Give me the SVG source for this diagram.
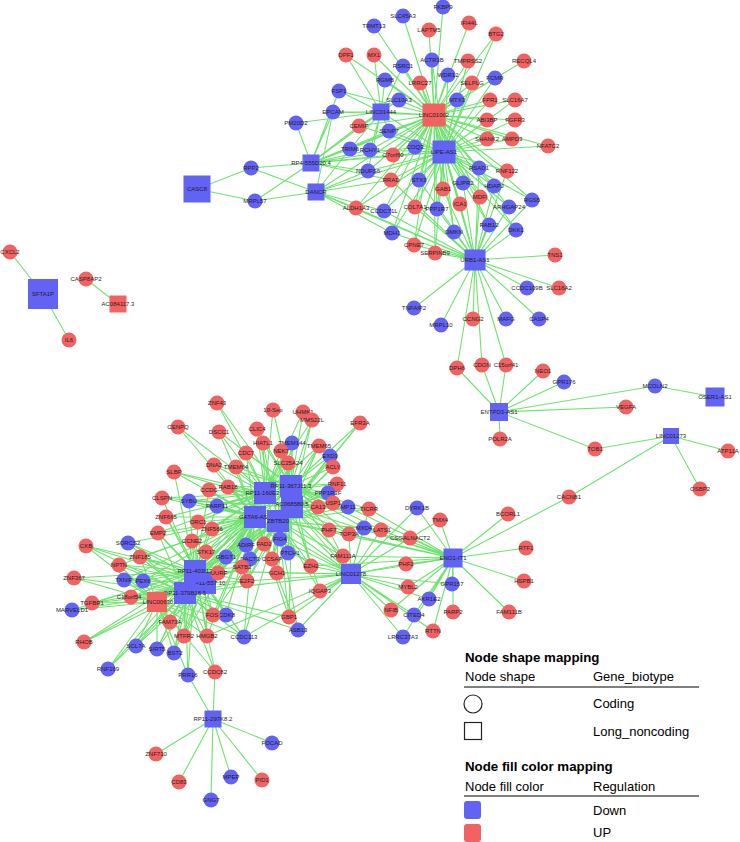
<svg xmlns="http://www.w3.org/2000/svg" width="740" height="842" viewBox="0 0 740 842">
<style>
.d{fill:#6262f4}
.u{fill:#f26262}
text{font-family:"Liberation Sans",Arial,sans-serif;font-size:6px;text-anchor:middle;fill:#1e1e1e}
#edges path{stroke:#6ee46e;stroke-width:1.1;fill:none}
#legend text{font-size:13px;text-anchor:start;fill:#000}
#legend .t{font-weight:bold;font-size:13.3px}
</style>
<rect width="740" height="842" fill="#fff"/>
<g id="edges">
<path d="M434 115L443 7M434 115L403 16M434 115L374 26M434 115L429 30M434 115L469 23M434 115L496 34M434 115L346 55M434 115L374 55M434 115L432 60M434 115L468 61M434 115L524 61M434 115L403 66M434 115L385 80M434 115L420 83M434 115L448 75M434 115L495 78M434 115L472 83M434 115L339 91M434 115L399 100M434 115L457 100M434 115L490 100M434 115L515 100M434 115L333 112M434 115L487 120M434 115L515 120M434 115L359 126M434 115L389 131M434 115L487 139M434 115L512 139M434 115L548 146M434 115L350 149M434 115L370 150M434 115L415 147M434 115L393 155M434 115L368 171M434 115L479 168M434 115L507 171M434 115L391 180M434 115L419 180M434 115L443 189M434 115L463 183M434 115L494 186M434 115L480 197M434 115L460 204M434 115L509 207M434 115L532 200M434 115L356 208M434 115L384 211M434 115L415 207M434 115L437 209M434 115L489 225M434 115L516 230M434 115L392 233M434 115L454 232M434 115L414 245M434 115L435 253M434 115L381 112M434 115L444 152M434 115L475 260M434 115L311 163M434 115L316 192"/>
<path d="M444 152L495 78M444 152L472 83M444 152L457 100M444 152L490 100M444 152L515 100M444 152L487 120M444 152L515 120M444 152L487 139M444 152L512 139M444 152L548 146M444 152L479 168M444 152L507 171M444 152L419 180M444 152L443 189M444 152L463 183M444 152L494 186M444 152L480 197M444 152L460 204M444 152L509 207M444 152L532 200M444 152L415 207M444 152L437 209M444 152L489 225M444 152L516 230M444 152L454 232M444 152L414 245M444 152L435 253M444 152L415 147M444 152L393 155M444 152L370 150M444 152L368 171M444 152L391 180M444 152L448 75M444 152L432 60M444 152L420 83M444 152L468 61M444 152L389 131M444 152L359 126M444 152L384 211M444 152L392 233M444 152L496 34M444 152L475 260M444 152L311 163M444 152L316 192M444 152L381 112M444 152L356 208"/>
<path d="M475 260L419 180M475 260L443 189M475 260L463 183M475 260L494 186M475 260L480 197M475 260L460 204M475 260L509 207M475 260L532 200M475 260L489 225M475 260L516 230M475 260L454 232M475 260L415 207M475 260L437 209M475 260L414 245M475 260L435 253M475 260L392 233M475 260L384 211M475 260L356 208M475 260L391 180M475 260L479 168M475 260L507 171M475 260L555 255M475 260L527 288M475 260L559 288M475 260L414 308M475 260L441 325M475 260L473 319M475 260L506 319M475 260L539 319M475 260L457 368M475 260L482 365M475 260L506 365M475 260L316 192"/>
<path d="M381 112L346 55M381 112L374 55M381 112L385 80M381 112L399 100M381 112L339 91M381 112L333 112M381 112L296 123M381 112L359 126M381 112L389 131M381 112L350 149M381 112L370 150M381 112L311 163M381 112L403 66M381 112L368 171"/>
<path d="M311 163L251 168M311 163L255 201M311 163L296 123M311 163L333 112M311 163L339 91M311 163L359 126M311 163L389 131M311 163L350 149M311 163L370 150M311 163L368 171M311 163L393 155M311 163L415 147M311 163L391 180"/>
<path d="M316 192L251 168M316 192L255 201M316 192L368 171M316 192L356 208M316 192L384 211M316 192L392 233M316 192L391 180M316 192L350 149M316 192L333 112M197 189L251 168M197 189L255 201"/>
<path d="M499 412L457 368M499 412L482 365M499 412L506 365M499 412L543 371M499 412L564 382M499 412L655 386M499 412L626 407M499 412L500 439M499 412L595 449M715 397L655 386M671 436L595 449M671 436L728 451M671 436L700 489M671 436L569 497M43 294L10 252M43 294L69 340M118 304L86 279"/>
<path d="M453 558L417 508M453 558L440 520M453 558L410 538M453 558L508 514M453 558L569 497M453 558L526 548M453 558L524 581M453 558L509 612M453 558L453 612M453 558L452 584M453 558L429 599M453 558L414 615M453 558L433 631M453 558L408 587M453 558L406 564M453 558L403 637M453 558L381 530M453 558L349 534M453 558L364 528M453 558L369 509M453 558L343 556M453 558L329 530M453 558L311 566M453 558L348 507M453 558L278 521M453 558L292 507M453 558L391 610M453 558L351 574"/>
<path d="M351 574L417 508M351 574L410 538M351 574L406 564M351 574L408 587M351 574L391 610M351 574L414 615M351 574L429 599M351 574L452 584M351 574L433 631M351 574L403 637M351 574L320 591M351 574L343 556M351 574L311 566M351 574L349 534M351 574L381 530M351 574L364 528M351 574L329 530M351 574L369 509M351 574L289 617M351 574L298 630M351 574L277 573M351 574L278 521M351 574L255 517M351 574L265 493M351 574L291 486M351 574L292 507M351 574L195 571M351 574L185 593M351 574L244 637M351 574L207 636M351 574L440 520M351 574L247 581M351 574L288 553M351 574L280 539"/>
<path d="M265 493L217 403M265 493L273 410M265 493L303 412M265 493L312 420M265 493L178 427M265 493L219 432M265 493L257 429M265 493L263 443M265 493L292 443M265 493L319 446M265 493L281 451M265 493L246 453M265 493L288 463M265 493L214 465M265 493L236 467M265 493L174 472M265 493L228 487M265 493L209 490M265 493L162 498M265 493L189 501M265 493L217 506M265 493L198 522M265 493L212 529M265 493L166 517M265 493L337 484M265 493L318 507M265 493L328 493M265 493L246 545M265 493L264 544M265 493L280 539M265 493L226 557M265 493L206 552M265 493L192 541M265 493L158 533M265 493L195 571M265 493L185 593"/>
<path d="M291 486L273 410M291 486L303 412M291 486L312 420M291 486L360 423M291 486L257 429M291 486L263 443M291 486L292 443M291 486L319 446M291 486L281 451M291 486L330 456M291 486L333 467M291 486L288 463M291 486L246 453M291 486L236 467M291 486L214 465M291 486L219 432M291 486L337 484M291 486L328 493M291 486L318 507M291 486L333 503M291 486L348 507M291 486L369 509M291 486L329 530M291 486L349 534M291 486L364 528M291 486L381 530M291 486L228 487M291 486L217 506M291 486L280 539M291 486L288 553M291 486L264 544M291 486L272 559M291 486L311 566M291 486L195 571M291 486L185 593"/>
<path d="M292 507L217 403M292 507L312 420M292 507L360 423M292 507L292 443M292 507L319 446M292 507L330 456M292 507L333 467M292 507L288 463M292 507L281 451M292 507L337 484M292 507L328 493M292 507L333 503M292 507L348 507M292 507L369 509M292 507L329 530M292 507L349 534M292 507L343 556M292 507L311 566M292 507L288 553M292 507L277 573M292 507L272 559M292 507L250 559M292 507L242 567M292 507L247 581M292 507L289 617M292 507L320 591M292 507L228 487M292 507L189 501M292 507L162 498M292 507L174 472M292 507L195 571M292 507L185 593M292 507L157 602M292 507L205 583"/>
<path d="M255 517L178 427M255 517L219 432M255 517L214 465M255 517L236 467M255 517L246 453M255 517L174 472M255 517L228 487M255 517L209 490M255 517L162 498M255 517L189 501M255 517L217 506M255 517L166 517M255 517L198 522M255 517L212 529M255 517L158 533M255 517L192 541M255 517L206 552M255 517L226 557M255 517L246 545M255 517L264 544M255 517L250 559M255 517L242 567M255 517L218 573M255 517L247 581M255 517L272 559M255 517L277 573M255 517L280 539M255 517L288 553M255 517L311 566M255 517L213 615M255 517L226 615M255 517L244 637M255 517L207 636M255 517L184 636M255 517L170 622M255 517L128 543M255 517L140 557M255 517L119 565M255 517L124 580M255 517L143 581M255 517L195 571M255 517L185 593M255 517L157 602M255 517L205 583M255 517L289 617M255 517L298 630"/>
<path d="M278 521L257 429M278 521L263 443M278 521L292 443M278 521L319 446M278 521L281 451M278 521L330 456M278 521L333 467M278 521L360 423M278 521L337 484M278 521L318 507M278 521L333 503M278 521L348 507M278 521L369 509M278 521L329 530M278 521L349 534M278 521L364 528M278 521L381 530M278 521L343 556M278 521L311 566M278 521L288 553M278 521L277 573M278 521L272 559M278 521L250 559M278 521L247 581M278 521L242 567M278 521L320 591M278 521L289 617M278 521L298 630M278 521L244 637M278 521L213 615M278 521L217 506M278 521L189 501M278 521L228 487M278 521L195 571M278 521L185 593M278 521L205 583M278 521L157 602"/>
<path d="M195 571L162 498M195 571L189 501M195 571L166 517M195 571L158 533M195 571L192 541M195 571L128 543M195 571L86 546M195 571L140 557M195 571L119 565M195 571L74 578M195 571L124 580M195 571L143 581M195 571L131 597M195 571L92 603M195 571L72 610M195 571L84 642M195 571L108 669M195 571L136 646M195 571L157 649M195 571L174 653M195 571L170 622M195 571L184 636M195 571L207 636M195 571L213 615M195 571L226 615M195 571L218 573M195 571L206 552M195 571L226 557M195 571L246 545M195 571L242 567M195 571L247 581M195 571L250 559M195 571L198 522M195 571L212 529M195 571L188 675M195 571L215 672M195 571L244 637M195 571L217 506M195 571L174 472M195 571L209 490"/>
<path d="M205 583L128 543M205 583L86 546M205 583L140 557M205 583L119 565M205 583L124 580M205 583L143 581M205 583L131 597M205 583L92 603M205 583L170 622M205 583L184 636M205 583L207 636M205 583L213 615M205 583L218 573M205 583L226 557M205 583L247 581M205 583L242 567M205 583L244 637M205 583L136 646M205 583L157 649M205 583L174 653M205 583L192 541M205 583L158 533M205 583L166 517"/>
<path d="M185 593L86 546M185 593L128 543M185 593L74 578M185 593L124 580M185 593L143 581M185 593L131 597M185 593L92 603M185 593L72 610M185 593L84 642M185 593L108 669M185 593L136 646M185 593L157 649M185 593L174 653M185 593L170 622M185 593L184 636M185 593L207 636M185 593L213 615M185 593L226 615M185 593L244 637M185 593L188 675M185 593L215 672M185 593L218 573M185 593L247 581M185 593L192 541M185 593L158 533M185 593L206 552M185 593L242 567M185 593L298 630M185 593L289 617M185 593L140 557M185 593L119 565"/>
<path d="M157 602L74 578M157 602L92 603M157 602L72 610M157 602L84 642M157 602L108 669M157 602L136 646M157 602L157 649M157 602L174 653M157 602L131 597M157 602L124 580M157 602L143 581M157 602L170 622M157 602L184 636M157 602L207 636M157 602L188 675M157 602L215 672M157 602L213 615M157 602L140 557M157 602L119 565M157 602L86 546M157 602L244 637M157 602L218 573"/>
<path d="M213 719L188 675M213 719L215 672M213 719L156 754M213 719L179 782M213 719L211 800M213 719L231 777M213 719L262 780M213 719L272 743"/>
</g>
<g id="hubs">
<g id="n_CASC8"><rect class="d" x="183.5" y="175.5" width="27" height="27"/><text x="197" y="191">CASC8</text></g>
<g id="n_SFTA1P"><rect class="d" x="28" y="279" width="30" height="30"/><text x="43" y="296">SFTA1P</text></g>
<g id="n_AC084117.3"><rect class="u" x="109.5" y="295.5" width="17" height="17"/><text x="118" y="306">AC084117.3</text></g>
<g id="n_LINC01002"><rect class="u" x="422.5" y="103.5" width="23" height="23"/><text x="434" y="117">LINC01002</text></g>
<g id="n_LINC01444"><rect class="d" x="372.5" y="103.5" width="17" height="17"/><text x="381" y="114">LINC01444</text></g>
<g id="n_LIPE-AS1"><rect class="d" x="432.5" y="140.5" width="23" height="23"/><text x="444" y="154">LIPE-AS1</text></g>
<g id="n_RP4-555D20.4"><rect class="d" x="302.5" y="154.5" width="17" height="17"/><text x="311" y="165">RP4-555D20.4</text></g>
<g id="n_DANCR"><rect class="d" x="307.5" y="183.5" width="17" height="17"/><text x="316" y="194">DANCR</text></g>
<g id="n_URB1-AS1"><rect class="d" x="464.5" y="249.5" width="21" height="21"/><text x="475" y="262">URB1-AS1</text></g>
<g id="n_ENTPD3-AS1"><rect class="d" x="490" y="403" width="18" height="18"/><text x="499" y="414">ENTPD3-AS1</text></g>
<g id="n_OSER1-AS1"><rect class="d" x="705.5" y="387.5" width="19" height="19"/><text x="715" y="399">OSER1-AS1</text></g>
<g id="n_LINC01273"><rect class="d" x="663" y="428" width="16" height="16"/><text x="671" y="438">LINC01273</text></g>
<g id="n_ENO1-IT1"><rect class="d" x="443.5" y="548.5" width="19" height="19"/><text x="453" y="560">ENO1-IT1</text></g>
<g id="n_LINC01278"><rect class="d" x="341" y="564" width="20" height="20"/><text x="351" y="576">LINC01278</text></g>
<g id="n_RP11-160E2.6"><rect class="d" x="254" y="482" width="22" height="22"/><text x="265" y="495">RP11-160E2.6</text></g>
<g id="n_RP11-367J11.3"><rect class="d" x="280" y="475" width="22" height="22"/><text x="291" y="488">RP11-367J11.3</text></g>
<g id="n_AC068580.5"><rect class="d" x="281" y="496" width="22" height="22"/><text x="292" y="506">AC068580.5</text></g>
<g id="n_GATA6-AS1"><rect class="d" x="244" y="506" width="22" height="22"/><text x="255" y="519">GATA6-AS1</text></g>
<g id="n_ZBTB20"><rect class="d" x="267" y="510" width="22" height="22"/><text x="278" y="523">ZBTB20</text></g>
<g id="n_RP11-557.10"><rect class="d" x="194" y="572" width="22" height="22"/><text x="208" y="585">RP11-557.10</text></g>
<g id="n_RP11-403I13"><rect class="d" x="184" y="560" width="22" height="22"/><text x="195" y="573">RP11-403I13</text></g>
<g id="n_RP11-379B18.5"><rect class="d" x="174" y="582" width="22" height="22"/><text x="185" y="595">RP11-379B18.5</text></g>
<g id="n_LINC00630"><rect class="u" x="147" y="592" width="20" height="20"/><text x="158" y="604">LINC00630</text></g>
<g id="n_RP11-297K8.2"><rect class="d" x="204.5" y="710.5" width="17" height="17"/><text x="213" y="721">RP11-297K8.2</text></g>
</g>
<g id="genes">
<g id="n_FKBP9"><circle class="d" cx="443" cy="7" r="7.5"/><text x="443" y="9">FKBP9</text></g>
<g id="n_SLC45A3"><circle class="d" cx="403" cy="16" r="7.5"/><text x="403" y="18">SLC45A3</text></g>
<g id="n_TRMT13"><circle class="d" cx="374" cy="26" r="7.5"/><text x="374" y="28">TRMT13</text></g>
<g id="n_LAPTM5"><circle class="u" cx="429" cy="30" r="7.5"/><text x="429" y="32">LAPTM5</text></g>
<g id="n_IFI44L"><circle class="u" cx="469" cy="23" r="7.5"/><text x="469" y="25">IFI44L</text></g>
<g id="n_BTG2"><circle class="u" cx="496" cy="34" r="7.5"/><text x="496" y="36">BTG2</text></g>
<g id="n_DPF1"><circle class="u" cx="346" cy="55" r="7.5"/><text x="346" y="57">DPF1</text></g>
<g id="n_MX1"><circle class="u" cx="374" cy="55" r="7.5"/><text x="374" y="57">MX1</text></g>
<g id="n_ACTR1B"><circle class="d" cx="432" cy="60" r="7.5"/><text x="432" y="62">ACTR1B</text></g>
<g id="n_TMPRSS2"><circle class="u" cx="468" cy="61" r="7.5"/><text x="468" y="63">TMPRSS2</text></g>
<g id="n_RECQL4"><circle class="u" cx="524" cy="61" r="7.5"/><text x="524" y="63">RECQL4</text></g>
<g id="n_RSRC1"><circle class="d" cx="403" cy="66" r="7.5"/><text x="403" y="68">RSRC1</text></g>
<g id="n_RGMB"><circle class="d" cx="385" cy="80" r="7.5"/><text x="385" y="82">RGMB</text></g>
<g id="n_LRRC27"><circle class="u" cx="420" cy="83" r="7.5"/><text x="420" y="85">LRRC27</text></g>
<g id="n_WDR12"><circle class="d" cx="448" cy="75" r="7.5"/><text x="448" y="77">WDR12</text></g>
<g id="n_FCMR"><circle class="d" cx="495" cy="78" r="7.5"/><text x="495" y="80">FCMR</text></g>
<g id="n_SELPLG"><circle class="u" cx="472" cy="83" r="7.5"/><text x="472" y="85">SELPLG</text></g>
<g id="n_FSP1"><circle class="d" cx="339" cy="91" r="7.5"/><text x="339" y="93">FSP1</text></g>
<g id="n_SLC10A3"><circle class="d" cx="399" cy="100" r="7.5"/><text x="399" y="102">SLC10A3</text></g>
<g id="n_MTX3"><circle class="d" cx="457" cy="100" r="7.5"/><text x="457" y="102">MTX3</text></g>
<g id="n_FPR1"><circle class="u" cx="490" cy="100" r="7.5"/><text x="490" y="102">FPR1</text></g>
<g id="n_SLC16A7"><circle class="u" cx="515" cy="100" r="7.5"/><text x="515" y="102">SLC16A7</text></g>
<g id="n_EPCAM"><circle class="d" cx="333" cy="112" r="7.5"/><text x="333" y="114">EPCAM</text></g>
<g id="n_ABI3BP"><circle class="u" cx="487" cy="120" r="7.5"/><text x="487" y="122">ABI3BP</text></g>
<g id="n_FGFR3"><circle class="u" cx="515" cy="120" r="7.5"/><text x="515" y="122">FGFR3</text></g>
<g id="n_PM20D2"><circle class="d" cx="296" cy="123" r="7.5"/><text x="296" y="125">PM20D2</text></g>
<g id="n_CEMIP"><circle class="u" cx="359" cy="126" r="7.5"/><text x="359" y="128">CEMIP</text></g>
<g id="n_SENP7"><circle class="d" cx="389" cy="131" r="7.5"/><text x="389" y="133">SENP7</text></g>
<g id="n_SHANK2"><circle class="u" cx="487" cy="139" r="7.5"/><text x="487" y="141">SHANK2</text></g>
<g id="n_AMPD3"><circle class="u" cx="512" cy="139" r="7.5"/><text x="512" y="141">AMPD3</text></g>
<g id="n_NFATC2"><circle class="u" cx="548" cy="146" r="7.5"/><text x="548" y="148">NFATC2</text></g>
<g id="n_TRIM6"><circle class="d" cx="350" cy="149" r="7.5"/><text x="350" y="151">TRIM6</text></g>
<g id="n_RCHY1"><circle class="d" cx="370" cy="150" r="7.5"/><text x="370" y="152">RCHY1</text></g>
<g id="n_COQ3"><circle class="d" cx="415" cy="147" r="7.5"/><text x="415" y="149">COQ3</text></g>
<g id="n_C7orf60"><circle class="u" cx="393" cy="155" r="7.5"/><text x="393" y="157">C7orf60</text></g>
<g id="n_RPP2"><circle class="d" cx="251" cy="168" r="7.5"/><text x="251" y="170">RPP2</text></g>
<g id="n_NDUFS6"><circle class="d" cx="368" cy="171" r="7.5"/><text x="368" y="173">NDUFS6</text></g>
<g id="n_RSAD1"><circle class="d" cx="479" cy="168" r="7.5"/><text x="479" y="170">RSAD1</text></g>
<g id="n_RNF122"><circle class="u" cx="507" cy="171" r="7.5"/><text x="507" y="173">RNF122</text></g>
<g id="n_RRAD"><circle class="u" cx="391" cy="180" r="7.5"/><text x="391" y="182">RRAD</text></g>
<g id="n_STX3"><circle class="d" cx="419" cy="180" r="7.5"/><text x="419" y="182">STX3</text></g>
<g id="n_GAB1"><circle class="u" cx="443" cy="189" r="7.5"/><text x="443" y="191">GAB1</text></g>
<g id="n_GLIPR2"><circle class="d" cx="463" cy="183" r="7.5"/><text x="463" y="185">GLIPR2</text></g>
<g id="n_HDAPJ"><circle class="d" cx="494" cy="186" r="7.5"/><text x="494" y="188">HDAPJ</text></g>
<g id="n_MRPL57"><circle class="d" cx="255" cy="201" r="7.5"/><text x="255" y="203">MRPL57</text></g>
<g id="n_MDFI"><circle class="u" cx="480" cy="197" r="7.5"/><text x="480" y="199">MDFI</text></g>
<g id="n_ICA1"><circle class="u" cx="460" cy="204" r="7.5"/><text x="460" y="206">ICA1</text></g>
<g id="n_ARHGAP24"><circle class="d" cx="509" cy="207" r="7.5"/><text x="509" y="209">ARHGAP24</text></g>
<g id="n_RGS5"><circle class="d" cx="532" cy="200" r="7.5"/><text x="532" y="202">RGS5</text></g>
<g id="n_ALDH1A3"><circle class="u" cx="356" cy="208" r="7.5"/><text x="356" y="210">ALDH1A3</text></g>
<g id="n_CCDC71L"><circle class="d" cx="384" cy="211" r="7.5"/><text x="384" y="213">CCDC71L</text></g>
<g id="n_COL7A1"><circle class="u" cx="415" cy="207" r="7.5"/><text x="415" y="209">COL7A1</text></g>
<g id="n_PPP1R7"><circle class="d" cx="437" cy="209" r="7.5"/><text x="437" y="211">PPP1R7</text></g>
<g id="n_RAB12"><circle class="d" cx="489" cy="225" r="7.5"/><text x="489" y="227">RAB12</text></g>
<g id="n_DKK1"><circle class="d" cx="516" cy="230" r="7.5"/><text x="516" y="232">DKK1</text></g>
<g id="n_MDH1"><circle class="d" cx="392" cy="233" r="7.5"/><text x="392" y="235">MDH1</text></g>
<g id="n_DMKN"><circle class="d" cx="454" cy="232" r="7.5"/><text x="454" y="234">DMKN</text></g>
<g id="n_CPNE7"><circle class="u" cx="414" cy="245" r="7.5"/><text x="414" y="247">CPNE7</text></g>
<g id="n_SERPINB9"><circle class="u" cx="435" cy="253" r="7.5"/><text x="435" y="255">SERPINB9</text></g>
<g id="n_TNS1"><circle class="u" cx="555" cy="255" r="7.5"/><text x="555" y="257">TNS1</text></g>
<g id="n_CCDC109B"><circle class="d" cx="527" cy="288" r="7.5"/><text x="527" y="290">CCDC109B</text></g>
<g id="n_SLC16A2"><circle class="u" cx="559" cy="288" r="7.5"/><text x="559" y="290">SLC16A2</text></g>
<g id="n_TNFAIP2"><circle class="d" cx="414" cy="308" r="7.5"/><text x="414" y="310">TNFAIP2</text></g>
<g id="n_MRPL10"><circle class="d" cx="441" cy="325" r="7.5"/><text x="441" y="327">MRPL10</text></g>
<g id="n_CCNG2"><circle class="u" cx="473" cy="319" r="7.5"/><text x="473" y="321">CCNG2</text></g>
<g id="n_MAFG"><circle class="d" cx="506" cy="319" r="7.5"/><text x="506" y="321">MAFG</text></g>
<g id="n_CASP4"><circle class="d" cx="539" cy="319" r="7.5"/><text x="539" y="321">CASP4</text></g>
<g id="n_DPH6"><circle class="u" cx="457" cy="368" r="7.5"/><text x="457" y="370">DPH6</text></g>
<g id="n_CDON"><circle class="u" cx="482" cy="365" r="7.5"/><text x="482" y="367">CDON</text></g>
<g id="n_C15orf41"><circle class="u" cx="506" cy="365" r="7.5"/><text x="506" y="367">C15orf41</text></g>
<g id="n_NEO1"><circle class="u" cx="543" cy="371" r="7.5"/><text x="543" y="373">NEO1</text></g>
<g id="n_GPR176"><circle class="d" cx="564" cy="382" r="7.5"/><text x="564" y="384">GPR176</text></g>
<g id="n_MCOLN2"><circle class="d" cx="655" cy="386" r="7.5"/><text x="655" y="388">MCOLN2</text></g>
<g id="n_VEGFA"><circle class="u" cx="626" cy="407" r="7.5"/><text x="626" y="409">VEGFA</text></g>
<g id="n_POLR2A"><circle class="u" cx="500" cy="439" r="7.5"/><text x="500" y="441">POLR2A</text></g>
<g id="n_TOB1"><circle class="u" cx="595" cy="449" r="7.5"/><text x="595" y="451">TOB1</text></g>
<g id="n_ATP11A"><circle class="u" cx="728" cy="451" r="7.5"/><text x="728" y="453">ATP11A</text></g>
<g id="n_OSBP2"><circle class="u" cx="700" cy="489" r="7.5"/><text x="700" y="491">OSBP2</text></g>
<g id="n_CACNB1"><circle class="u" cx="569" cy="497" r="7.5"/><text x="569" y="499">CACNB1</text></g>
<g id="n_CXCL2"><circle class="u" cx="10" cy="252" r="7.5"/><text x="10" y="254">CXCL2</text></g>
<g id="n_IL6"><circle class="u" cx="69" cy="340" r="7.5"/><text x="69" y="342">IL6</text></g>
<g id="n_CASP8AP2"><circle class="u" cx="86" cy="279" r="7.5"/><text x="86" y="281">CASP8AP2</text></g>
<g id="n_ZNF43"><circle class="u" cx="217" cy="403" r="7.5"/><text x="217" y="405">ZNF43</text></g>
<g id="n_10-Sep"><circle class="u" cx="273" cy="410" r="7.5"/><text x="273" y="412">10-Sep</text></g>
<g id="n_UHMK1"><circle class="u" cx="303" cy="412" r="7.5"/><text x="303" y="414">UHMK1</text></g>
<g id="n_MMS22L"><circle class="u" cx="312" cy="420" r="7.5"/><text x="312" y="422">MMS22L</text></g>
<g id="n_EFR3A"><circle class="u" cx="360" cy="423" r="7.5"/><text x="360" y="425">EFR3A</text></g>
<g id="n_CENPQ"><circle class="u" cx="178" cy="427" r="7.5"/><text x="178" y="429">CENPQ</text></g>
<g id="n_DSCC1"><circle class="u" cx="219" cy="432" r="7.5"/><text x="219" y="434">DSCC1</text></g>
<g id="n_CLIC4"><circle class="u" cx="257" cy="429" r="7.5"/><text x="257" y="431">CLIC4</text></g>
<g id="n_HIATL1"><circle class="u" cx="263" cy="443" r="7.5"/><text x="263" y="445">HIATL1</text></g>
<g id="n_TMEM144"><circle class="d" cx="292" cy="443" r="7.5"/><text x="292" y="445">TMEM144</text></g>
<g id="n_TMEM65"><circle class="u" cx="319" cy="446" r="7.5"/><text x="319" y="448">TMEM65</text></g>
<g id="n_NEK7"><circle class="u" cx="281" cy="451" r="7.5"/><text x="281" y="453">NEK7</text></g>
<g id="n_CDC7"><circle class="u" cx="246" cy="453" r="7.5"/><text x="246" y="455">CDC7</text></g>
<g id="n_EXD3"><circle class="d" cx="330" cy="456" r="7.5"/><text x="330" y="458">EXD3</text></g>
<g id="n_SLC25A24"><circle class="u" cx="288" cy="463" r="7.5"/><text x="288" y="465">SLC25A24</text></g>
<g id="n_DNA2"><circle class="u" cx="214" cy="465" r="7.5"/><text x="214" y="467">DNA2</text></g>
<g id="n_TMEM64"><circle class="u" cx="236" cy="467" r="7.5"/><text x="236" y="469">TMEM64</text></g>
<g id="n_ACLY"><circle class="u" cx="333" cy="467" r="7.5"/><text x="333" y="469">ACLY</text></g>
<g id="n_SLBP"><circle class="u" cx="174" cy="472" r="7.5"/><text x="174" y="474">SLBP</text></g>
<g id="n_RNF11"><circle class="u" cx="337" cy="484" r="7.5"/><text x="337" y="486">RNF11</text></g>
<g id="n_CCDC"><circle class="u" cx="209" cy="490" r="7.5"/><text x="209" y="492">CCDC</text></g>
<g id="n_RAB18"><circle class="u" cx="228" cy="487" r="7.5"/><text x="228" y="489">RAB18</text></g>
<g id="n_PPP1R3F"><circle class="d" cx="328" cy="493" r="7.5"/><text x="328" y="495">PPP1R3F</text></g>
<g id="n_CLSPN"><circle class="u" cx="162" cy="498" r="7.5"/><text x="162" y="500">CLSPN</text></g>
<g id="n_SYBU"><circle class="d" cx="189" cy="501" r="7.5"/><text x="189" y="503">SYBU</text></g>
<g id="n_PARP11"><circle class="d" cx="217" cy="506" r="7.5"/><text x="217" y="508">PARP11</text></g>
<g id="n_CA13"><circle class="u" cx="318" cy="507" r="7.5"/><text x="318" y="509">CA13</text></g>
<g id="n_USP1"><circle class="u" cx="333" cy="503" r="7.5"/><text x="333" y="505">USP1</text></g>
<g id="n_MP11"><circle class="d" cx="348" cy="507" r="7.5"/><text x="348" y="509">MP11</text></g>
<g id="n_TICRR"><circle class="u" cx="369" cy="509" r="7.5"/><text x="369" y="511">TICRR</text></g>
<g id="n_DYRK1B"><circle class="d" cx="417" cy="508" r="7.5"/><text x="417" y="510">DYRK1B</text></g>
<g id="n_TMX4"><circle class="u" cx="440" cy="520" r="7.5"/><text x="440" y="522">TMX4</text></g>
<g id="n_BCORL1"><circle class="u" cx="508" cy="514" r="7.5"/><text x="508" y="516">BCORL1</text></g>
<g id="n_ZNF665"><circle class="u" cx="166" cy="517" r="7.5"/><text x="166" y="519">ZNF665</text></g>
<g id="n_ORC1"><circle class="u" cx="198" cy="522" r="7.5"/><text x="198" y="524">ORC1</text></g>
<g id="n_ZNF566"><circle class="u" cx="212" cy="529" r="7.5"/><text x="212" y="531">ZNF566</text></g>
<g id="n_PHF7"><circle class="u" cx="329" cy="530" r="7.5"/><text x="329" y="532">PHF7</text></g>
<g id="n_MXD4"><circle class="d" cx="364" cy="528" r="7.5"/><text x="364" y="530">MXD4</text></g>
<g id="n_LATS1"><circle class="u" cx="381" cy="530" r="7.5"/><text x="382" y="532">LATS1</text></g>
<g id="n_TOP3A"><circle class="u" cx="349" cy="534" r="7.5"/><text x="349" y="536">TOP3A</text></g>
<g id="n_EMP2"><circle class="u" cx="158" cy="533" r="7.5"/><text x="158" y="535">EMP2</text></g>
<g id="n_CSGALNACT2"><circle class="u" cx="410" cy="538" r="7.5"/><text x="410" y="540">CSGALNACT2</text></g>
<g id="n_FIG4"><circle class="d" cx="280" cy="539" r="7.5"/><text x="280" y="541">FIG4</text></g>
<g id="n_CCNE2"><circle class="u" cx="192" cy="541" r="7.5"/><text x="192" y="543">CCNE2</text></g>
<g id="n_SORCS2"><circle class="d" cx="128" cy="543" r="7.5"/><text x="128" y="545">SORCS2</text></g>
<g id="n_CKB"><circle class="u" cx="86" cy="546" r="7.5"/><text x="86" y="548">CKB</text></g>
<g id="n_ADIRF"><circle class="d" cx="246" cy="545" r="7.5"/><text x="246" y="547">ADIRF</text></g>
<g id="n_FAD2"><circle class="u" cx="264" cy="544" r="7.5"/><text x="264" y="546">FAD2</text></g>
<g id="n_RTF1"><circle class="u" cx="526" cy="548" r="7.5"/><text x="526" y="550">RTF1</text></g>
<g id="n_STK17"><circle class="u" cx="206" cy="552" r="7.5"/><text x="206" y="554">STK17</text></g>
<g id="n_PTCH1"><circle class="d" cx="288" cy="553" r="7.5"/><text x="290" y="555">PTCH1</text></g>
<g id="n_ZNF185"><circle class="u" cx="140" cy="557" r="7.5"/><text x="140" y="559">ZNF185</text></g>
<g id="n_GBGT1"><circle class="d" cx="226" cy="557" r="7.5"/><text x="226" y="559">GBGT1</text></g>
<g id="n_DACT3"><circle class="d" cx="250" cy="559" r="7.5"/><text x="250" y="561">DACT3</text></g>
<g id="n_CCSAP"><circle class="u" cx="272" cy="559" r="7.5"/><text x="272" y="561">CCSAP</text></g>
<g id="n_FAM111A"><circle class="u" cx="343" cy="556" r="7.5"/><text x="343" y="558">FAM111A</text></g>
<g id="n_NPTN"><circle class="u" cx="119" cy="565" r="7.5"/><text x="119" y="567">NPTN</text></g>
<g id="n_SATB2"><circle class="u" cx="242" cy="567" r="7.5"/><text x="242" y="569">SATB2</text></g>
<g id="n_EZH2"><circle class="u" cx="311" cy="566" r="7.5"/><text x="311" y="568">EZH2</text></g>
<g id="n_PHF2"><circle class="u" cx="406" cy="564" r="7.5"/><text x="406" y="566">PHF2</text></g>
<g id="n_GCH1"><circle class="u" cx="277" cy="573" r="7.5"/><text x="277" y="575">GCH1</text></g>
<g id="n_UURP"><circle class="u" cx="218" cy="573" r="7.5"/><text x="219" y="575">UURP</text></g>
<g id="n_ZNF367"><circle class="u" cx="74" cy="578" r="7.5"/><text x="74" y="580">ZNF367</text></g>
<g id="n_TXNIP"><circle class="d" cx="124" cy="580" r="7.5"/><text x="124" y="582">TXNIP</text></g>
<g id="n_PEX6"><circle class="d" cx="143" cy="581" r="7.5"/><text x="143" y="583">PEX6</text></g>
<g id="n_E2F2"><circle class="u" cx="247" cy="581" r="7.5"/><text x="247" y="583">E2F2</text></g>
<g id="n_HSPB1"><circle class="u" cx="524" cy="581" r="7.5"/><text x="524" y="583">HSPB1</text></g>
<g id="n_GPR157"><circle class="d" cx="452" cy="584" r="7.5"/><text x="452" y="586">GPR157</text></g>
<g id="n_MYBL2"><circle class="u" cx="408" cy="587" r="7.5"/><text x="408" y="589">MYBL2</text></g>
<g id="n_IQGAP3"><circle class="u" cx="320" cy="591" r="7.5"/><text x="320" y="593">IQGAP3</text></g>
<g id="n_C18orf54"><circle class="u" cx="131" cy="597" r="7.5"/><text x="129" y="599">C18orf54</text></g>
<g id="n_AKR1E2"><circle class="d" cx="429" cy="599" r="7.5"/><text x="429" y="601">AKR1E2</text></g>
<g id="n_TGFBR1"><circle class="u" cx="92" cy="603" r="7.5"/><text x="92" y="605">TGFBR1</text></g>
<g id="n_MARVELD1"><circle class="d" cx="72" cy="610" r="7.5"/><text x="72" y="612">MARVELD1</text></g>
<g id="n_NFIB"><circle class="u" cx="391" cy="610" r="7.5"/><text x="391" y="612">NFIB</text></g>
<g id="n_CDK8"><circle class="d" cx="226" cy="615" r="7.5"/><text x="227" y="617">CDK8</text></g>
<g id="n_FOS"><circle class="u" cx="213" cy="615" r="7.5"/><text x="212" y="617">FOS</text></g>
<g id="n_CITED4"><circle class="d" cx="414" cy="615" r="7.5"/><text x="414" y="617">CITED4</text></g>
<g id="n_PARP2"><circle class="u" cx="453" cy="612" r="7.5"/><text x="453" y="614">PARP2</text></g>
<g id="n_FAM111B"><circle class="u" cx="509" cy="612" r="7.5"/><text x="509" y="614">FAM111B</text></g>
<g id="n_GBP1"><circle class="u" cx="289" cy="617" r="7.5"/><text x="289" y="619">GBP1</text></g>
<g id="n_FAM73A"><circle class="u" cx="170" cy="622" r="7.5"/><text x="170" y="624">FAM73A</text></g>
<g id="n_ASB13"><circle class="d" cx="298" cy="630" r="7.5"/><text x="298" y="632">ASB13</text></g>
<g id="n_RTTN"><circle class="u" cx="433" cy="631" r="7.5"/><text x="433" y="633">RTTN</text></g>
<g id="n_LRRC37A3"><circle class="d" cx="403" cy="637" r="7.5"/><text x="403" y="639">LRRC37A3</text></g>
<g id="n_MTFR2"><circle class="u" cx="184" cy="636" r="7.5"/><text x="184" y="638">MTFR2</text></g>
<g id="n_HMGB2"><circle class="u" cx="207" cy="636" r="7.5"/><text x="207" y="638">HMGB2</text></g>
<g id="n_CCDC113"><circle class="d" cx="244" cy="637" r="7.5"/><text x="244" y="639">CCDC113</text></g>
<g id="n_RHOB"><circle class="u" cx="84" cy="642" r="7.5"/><text x="84" y="644">RHOB</text></g>
<g id="n_SCL7A"><circle class="d" cx="136" cy="646" r="7.5"/><text x="136" y="648">SCL7A</text></g>
<g id="n_SIRT5"><circle class="d" cx="157" cy="649" r="7.5"/><text x="157" y="651">SIRT5</text></g>
<g id="n_BST2"><circle class="d" cx="174" cy="653" r="7.5"/><text x="175" y="655">BST2</text></g>
<g id="n_RNF169"><circle class="d" cx="108" cy="669" r="7.5"/><text x="108" y="671">RNF169</text></g>
<g id="n_PRR16"><circle class="d" cx="188" cy="675" r="7.5"/><text x="188" y="677">PRR16</text></g>
<g id="n_CCDC82"><circle class="u" cx="215" cy="672" r="7.5"/><text x="215" y="674">CCDC82</text></g>
<g id="n_ZNF710"><circle class="u" cx="156" cy="754" r="7.5"/><text x="156" y="756">ZNF710</text></g>
<g id="n_FOCAD"><circle class="d" cx="272" cy="743" r="7.5"/><text x="272" y="745">FOCAD</text></g>
<g id="n_CD83"><circle class="u" cx="179" cy="782" r="7.5"/><text x="179" y="784">CD83</text></g>
<g id="n_MPEP"><circle class="d" cx="231" cy="777" r="7.5"/><text x="231" y="779">MPEP</text></g>
<g id="n_PID1"><circle class="u" cx="262" cy="780" r="7.5"/><text x="262" y="782">PID1</text></g>
<g id="n_GNG7"><circle class="d" cx="211" cy="800" r="7.5"/><text x="211" y="802">GNG7</text></g>
</g>
<g id="legend">
<text class="t" x="465" y="662">Node shape mapping</text>
<text x="465" y="681">Node shape</text>
<text x="593" y="681">Gene_biotype</text>
<line x1="464" y1="687" x2="699" y2="687" stroke="#555" stroke-width="1.3"/>
<circle cx="473" cy="704" r="9" fill="none" stroke="#222" stroke-width="1.2"/>
<text x="593" y="708">Coding</text>
<rect x="464.5" y="722.5" width="17" height="17" fill="none" stroke="#222" stroke-width="1.2"/>
<text x="593" y="736">Long_noncoding</text>
<text class="t" x="465" y="771">Node fill color mapping</text>
<text x="465" y="791">Node fill color</text>
<text x="593" y="791">Regulation</text>
<line x1="464" y1="796" x2="699" y2="796" stroke="#555" stroke-width="1.3"/>
<rect class="d" x="464" y="801" width="17" height="18" rx="3"/>
<text x="593" y="815">Down</text>
<rect class="u" x="464" y="824" width="17" height="18" rx="3"/>
<text x="593" y="837">UP</text>
</g>
</svg>
